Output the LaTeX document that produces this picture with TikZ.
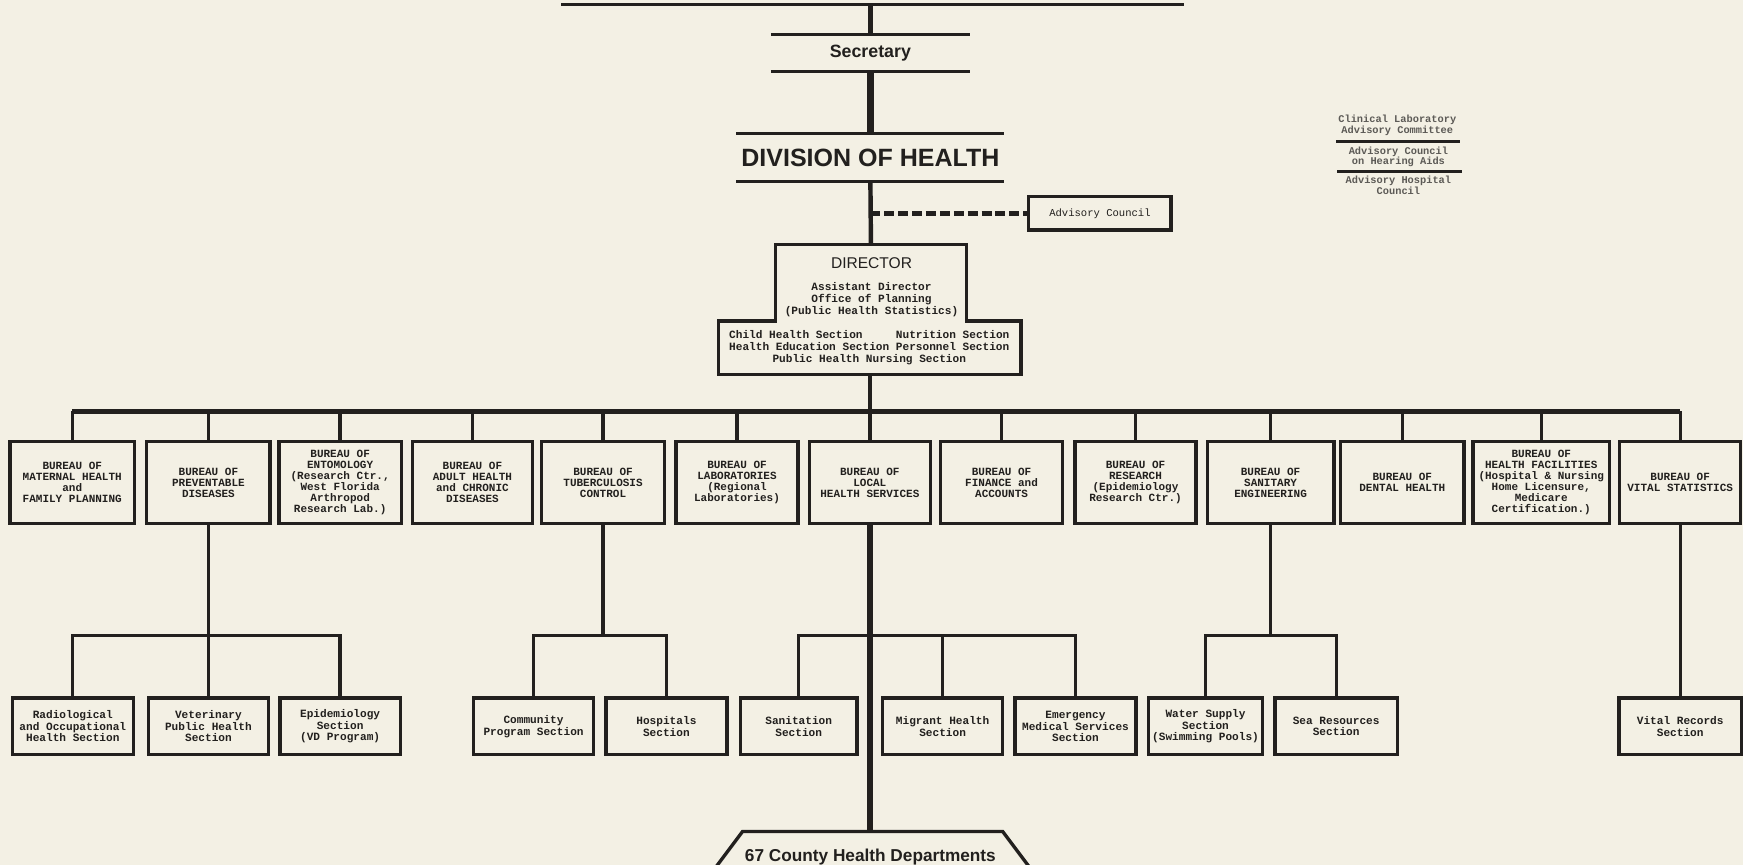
\documentclass[tikz,border=0pt]{standalone}
\usepackage{fontspec}
\setmainfont{Liberation Sans}
\setmonofont{Liberation Mono}
\definecolor{paper}{RGB}{243,240,228}
\definecolor{ink}{RGB}{34,32,30}
\definecolor{faded}{RGB}{92,90,86}
\newcommand{\boxwd}{3pt}
\tikzset{
  bureau/.style={draw=ink, line width=\boxwd, inner sep=0pt, align=center, text=ink,
    minimum height=74pt, font=\fontsize{9.9}{9.9}\selectfont\ttfamily\bfseries},
  section/.style={bureau, minimum height=51pt, font=\fontsize{10}{10.4}\selectfont\ttfamily\bfseries},
  staff/.style={align=center, text=ink, inner sep=0pt, font=\fontsize{10}{10.8}\selectfont\ttfamily\bfseries},
  legend/.style={align=center, text=faded, inner sep=0pt, font=\fontsize{9.3}{9.6}\selectfont\ttfamily\bfseries},
  banner/.style={text=ink, inner sep=0pt, outer sep=0pt},
  link/.style={draw=ink, line width=3pt},
  rule/.style={draw=ink, line width=2.6pt},
}

\begin{document}
\begin{tikzpicture}[x=1pt,y=-1pt]
  \useasboundingbox (0,0) rectangle (1568,778);
  \fill[paper] (0,0) rectangle (1568,778);

  % top of the chart
  \coordinate (topL) at (505,4);
  \coordinate (topR) at (1065,4);
  \draw[rule, line width=3pt] (topL) -- (topR);
  \node[banner, minimum width=179pt, minimum height=33pt, font=\fontsize{16}{16}\selectfont\bfseries] (sec) at (783,47.5) {Secretary};
  \draw[rule] (sec.north west) -- (sec.north east);
  \draw[rule] (sec.south west) -- (sec.south east);
  \draw[link, line width=4pt] (sec.north |- topL) -- (sec.north);
  \node[banner, minimum width=241pt, minimum height=43.5pt, font=\fontsize{22.5}{22.5}\selectfont\bfseries] (div) at (783,141.75) {DIVISION OF HEALTH};
  \draw[rule] (div.north west) -- (div.north east);
  \draw[rule] (div.south west) -- (div.south east);
  \draw[link, line width=7pt] (sec.south) -- (div.north);

  % advisory council
  \node[draw=ink, line width=\boxwd, minimum width=128pt, minimum height=30pt, inner sep=0pt, text=ink,
    font=\fontsize{9.5}{10}\selectfont\ttfamily] (adv) at (989.5,192) {Advisory Council};
  \draw[ink, line width=5pt, dash pattern=on 9pt off 3.5pt] (div.south |- adv.west) -- (adv.west);

  % director
  \node[banner, minimum width=172pt, minimum height=69pt] (dirtop) at (783.5,254.5) {};
  \node[banner, minimum width=272pt, minimum height=48pt] (dirbot) at (782.5,313) {};
  \draw[ink, line width=3.2pt] (dirtop.south west) -- (dirtop.north west) -- (dirtop.north east)
    -- (dirtop.south east) -- (dirbot.north east) -- (dirbot.south east) -- (dirbot.south west)
    -- (dirbot.north west) -- cycle;
  \draw[link, line width=4pt] (div.south) -- (dirtop.north);
  \node[banner, font=\fontsize{14}{14}\selectfont] (dirname) at (784,237) {DIRECTOR};
  \node[staff] (dirstaff) at (784,269.5) {Assistant Director\\Office of Planning\\(Public Health Statistics)};
  \node[staff] (dirsect) at (782,313) {Child Health Section\ \ \ \ \ Nutrition Section\\Health Education Section Personnel Section\\Public Health Nursing Section};

  % advisory bodies, right
  \node[legend] (clab) at (1257,113) {Clinical Laboratory\\Advisory Committee};
  \draw[rule, line width=3pt] (1202,127.5) -- (1313,127.5);
  \node[legend] (hear) at (1258,141) {Advisory Council\\on Hearing Aids};
  \draw[rule, line width=3pt] (1203,154.5) -- (1315,154.5);
  \node[legend] (hosp) at (1258,166.5) {Advisory Hospital\\Council};

  % bureaus
  \foreach \n/\x/\w/\t in {
      1/65/112/{BUREAU OF\\MATERNAL HEALTH\\and\\FAMILY PLANNING},
      2/187.5/111/{BUREAU OF\\PREVENTABLE\\DISEASES},
      3/306/110/{BUREAU OF\\ENTOMOLOGY\\(Research Ctr.,\\West Florida\\Arthropod\\Research Lab.)},
      4/425/108/{BUREAU OF\\ADULT HEALTH\\and CHRONIC\\DISEASES},
      5/542.5/111/{BUREAU OF\\TUBERCULOSIS\\CONTROL},
      6/663/110/{BUREAU OF\\LABORATORIES\\(Regional\\Laboratories)},
      7/782.5/109/{BUREAU OF\\LOCAL\\HEALTH SERVICES},
      8/901/110/{BUREAU OF\\FINANCE and\\ACCOUNTS},
      9/1021.5/109/{BUREAU OF\\RESEARCH\\(Epidemiology\\Research Ctr.)},
      10/1143/114/{BUREAU OF\\SANITARY\\ENGINEERING},
      11/1261.5/111/{BUREAU OF\\DENTAL HEALTH},
      12/1386.5/123/{BUREAU OF\\HEALTH FACILITIES\\(Hospital \& Nursing\\Home Licensure,\\Medicare\\Certification.)},
      13/1511.5/109/{BUREAU OF\\VITAL STATISTICS}}
  {
    \node[bureau, minimum width=\w pt] (bur\n) at (\x,434) {\t};
  }
  \coordinate (bus) at (0,370);
  \draw[link, line width=4.5pt] (bur1.north |- bus) -- (bur13.north |- bus);
  \draw[link] (dirbot.south) -- (dirbot.south |- bus);
  \foreach \n in {1,...,13}
  {
    \draw[link] (bur\n.north |- bus) -- (bur\n.north);
  }

  % sections
  \foreach \n/\x/\w/\t in {
      radio/65.5/109/{Radiological\\and Occupational\\Health Section},
      vet/187.5/108/{Veterinary\\Public Health\\Section},
      epid/306/108/{Epidemiology\\Section\\(VD Program)},
      comm/480/108/{Community\\Program Section},
      hospsec/599.5/109/{Hospitals\\Section},
      sanit/718.5/105/{Sanitation\\Section},
      migr/848/108/{Migrant Health\\Section},
      emerg/967.5/109/{Emergency\\Medical Services\\Section},
      water/1084.5/103/{Water Supply\\Section\\(Swimming Pools)},
      sea/1202/110/{Sea Resources\\Section},
      vital/1511.5/110/{Vital Records\\Section}}
  {
    \node[section, minimum width=\w pt] (\n) at (\x,653.5) {\t};
  }
  \draw[link] (bur2.south) -- (vet.north);
  \draw[link] (radio.north) -- ++(0,-55) -| (epid.north);
  \draw[link] (bur5.south) -- ++(0,100);
  \draw[link] (comm.north) -- ++(0,-55) -| (hospsec.north);
  \draw[link] (sanit.north) -- ++(0,-55) -| (emerg.north);
  \draw[link] (migr.north) -- ++(0,-55);
  \draw[link] (bur10.south) -- ++(0,100);
  \draw[link] (water.north) -- ++(0,-55) -| (sea.north);
  \draw[link] (bur13.south) -- (vital.north);

  % county departments
  \coordinate (ctop) at (782.5,748);
  \draw[ink, line width=3pt] (644,780) -- (668,748) -- (902,748) -- (926,780);
  \draw[link, line width=5pt] (bur7.south) -- (ctop);
  \node[banner, font=\fontsize{15.5}{15.5}\selectfont\bfseries] (county) at (783,771) {67 County Health Departments};
\end{tikzpicture}
\end{document}
